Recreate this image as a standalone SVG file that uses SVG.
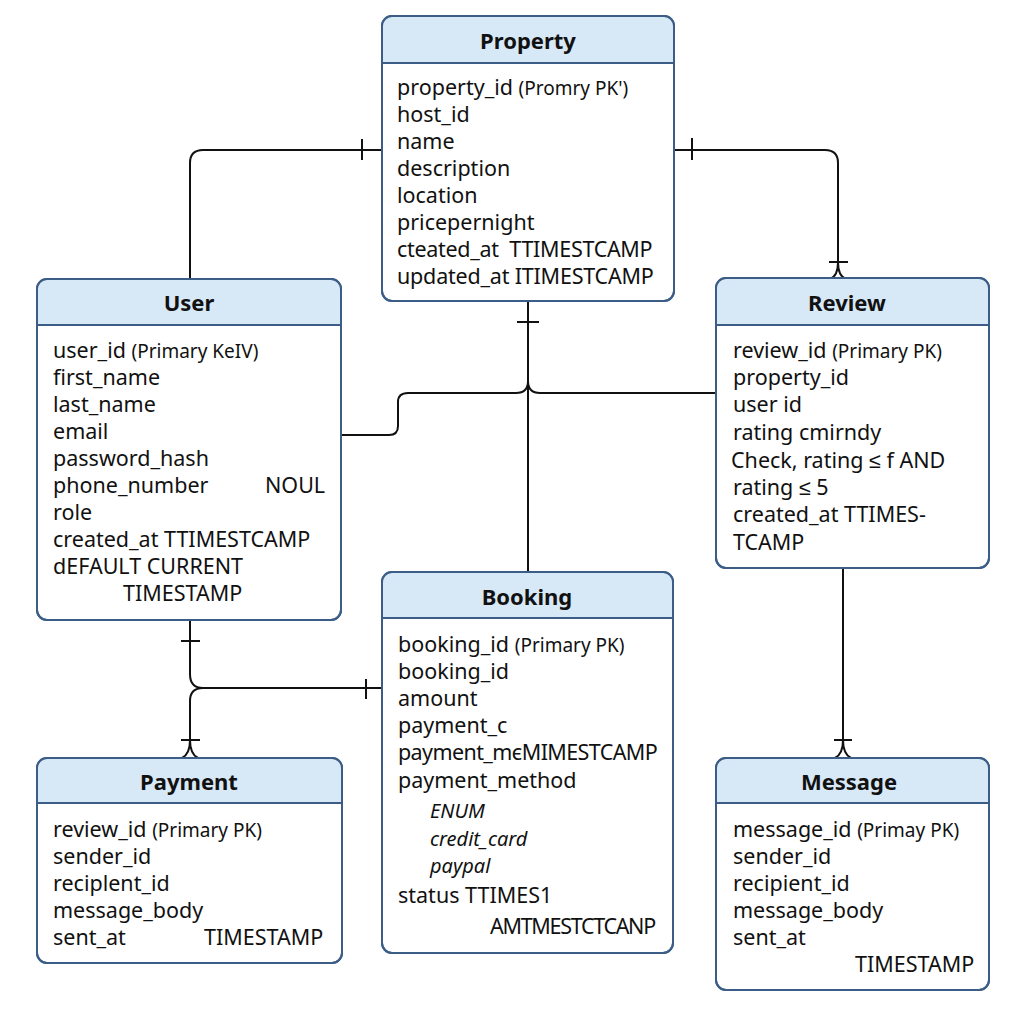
<svg xmlns="http://www.w3.org/2000/svg" width="1024" height="1024" viewBox="0 0 1024 1024">
<style>
.box{fill:#ffffff;stroke:#3b5d86;stroke-width:2}
.hdr{fill:#d7e8f6;stroke:none}
.sep{stroke:#3b5d86;stroke-width:2}
.title{font-family:"Noto Sans","Liberation Sans",sans-serif;font-size:22px;font-weight:bold;fill:#111;text-anchor:middle}
.f{font-family:"Noto Sans","Liberation Sans",sans-serif;font-size:21.5px;fill:#111;white-space:pre}
.s{font-size:19px}
.it{font-style:italic;font-size:20px}
.c{fill:none;stroke:#111;stroke-width:2;stroke-linecap:butt}
</style>
<rect width="1024" height="1024" fill="#ffffff"/>

<g id="connectors">
  <!-- Property - User -->
  <path class="c" d="M382,150 H203 Q190,150 190,163 V279"/>
  <path class="c" d="M362,139 V160"/>
  <!-- Property - Review -->
  <path class="c" d="M674,150 H825 Q838,150 838,163 V262"/>
  <path class="c" d="M692,138 V160"/>
  <path class="c" d="M829,262 H848"/>
  <path class="c" d="M838,262 Q838,276 830,279 M838,262 Q838,276 846,279"/>
  <!-- Property - Booking -->
  <path class="c" d="M528,301 V572"/>
  <path class="c" d="M517,322 H539"/>
  <!-- User - Property/Booking trunk -->
  <path class="c" d="M341,435 H389 Q398,435 398,426 V402 Q398,393 408,393 H516 Q528,393 528,381"/>
  <!-- Review - trunk -->
  <path class="c" d="M716,393 H540 Q528,393 528,381"/>
  <!-- User - Payment / Booking -->
  <path class="c" d="M190,621 V674 Q190,688 203,688 H382"/>
  <path class="c" d="M203,688 Q190,688 190,701 V740"/>
  <path class="c" d="M181,641 H200"/>
  <path class="c" d="M366,679 V699"/>
  <path class="c" d="M181,740 H200"/>
  <path class="c" d="M190,740 Q190,754 182,758 M190,740 Q190,754 198,758"/>
  <!-- Review - Message -->
  <path class="c" d="M843,568 V740"/>
  <path class="c" d="M834,740 H852"/>
  <path class="c" d="M843,740 Q843,754 835,758 M843,740 Q843,754 851,758"/>
</g>

<g id="property">
  <rect class="box" x="382" y="16" width="292" height="285" rx="10"/>
  <path class="hdr" d="M383,63 V26 Q383,17 392,17 H664 Q673,17 673,26 V63 Z"/>
  <line class="sep" x1="382" y1="63" x2="674" y2="63"/>
  <rect x="382" y="16" width="292" height="285" rx="10" fill="none" stroke="#3b5d86" stroke-width="2"/>
  <text class="title" x="528" y="49">Property</text>
  <text class="f" x="397" y="95">property_id <tspan class="s">(Promry PK')</tspan></text>
  <text class="f" x="397" y="122">host_id</text>
  <text class="f" x="397" y="149">name</text>
  <text class="f" x="397" y="176">description</text>
  <text class="f" x="397" y="203">location</text>
  <text class="f" x="397" y="230">pricepernight</text>
  <text class="f" x="397" y="257" letter-spacing="-0.3">cteated_at  TTIMESTCAMP</text>
  <text class="f" x="397" y="284" letter-spacing="-0.2">updated_at ITIMESTCAMP</text>
</g>

<g id="user">
  <rect class="box" x="37" y="279" width="304" height="341" rx="10"/>
  <path class="hdr" d="M38,325 V289 Q38,280 47,280 H331 Q340,280 340,289 V325 Z"/>
  <line class="sep" x1="37" y1="325" x2="341" y2="325"/>
  <rect x="37" y="279" width="304" height="341" rx="10" fill="none" stroke="#3b5d86" stroke-width="2"/>
  <text class="title" x="189" y="311">User</text>
  <text class="f" x="53" y="358">user_id <tspan class="s">(Primary KeIV)</tspan></text>
  <text class="f" x="53" y="385">first_name</text>
  <text class="f" x="53" y="412">last_name</text>
  <text class="f" x="53" y="439">email</text>
  <text class="f" x="53" y="466">password_hash</text>
  <text class="f" x="53" y="493">phone_number</text>
  <text class="f" x="265" y="493">NOUL</text>
  <text class="f" x="53" y="520">role</text>
  <text class="f" x="53" y="547">created_at TTIMESTCAMP</text>
  <text class="f" x="53" y="574">dEFAULT CURRENT</text>
  <text class="f" x="123" y="601">TIMESTAMP</text>
</g>

<g id="review">
  <rect class="box" x="716" y="278" width="273" height="290" rx="10"/>
  <path class="hdr" d="M717,325 V288 Q717,279 726,279 H979 Q988,279 988,288 V325 Z"/>
  <line class="sep" x1="716" y1="325" x2="989" y2="325"/>
  <rect x="716" y="278" width="273" height="290" rx="10" fill="none" stroke="#3b5d86" stroke-width="2"/>
  <text class="title" x="847" y="311">Review</text>
  <text class="f" x="733" y="358">review_id <tspan class="s">(Primary PK)</tspan></text>
  <text class="f" x="733" y="385">property_id</text>
  <text class="f" x="733" y="412">user id</text>
  <text class="f" x="733" y="440">rating cmirndy</text>
  <text class="f" x="731" y="468">Check, rating ≤ f AND</text>
  <text class="f" x="733" y="495">rating ≤ 5</text>
  <text class="f" x="733" y="522">created_at TTIMES-</text>
  <text class="f" x="733" y="550">TCAMP</text>
</g>

<g id="booking">
  <rect class="box" x="382" y="572" width="291" height="381" rx="10"/>
  <path class="hdr" d="M383,618 V582 Q383,573 392,573 H663 Q672,573 672,582 V618 Z"/>
  <line class="sep" x1="382" y1="618" x2="673" y2="618"/>
  <rect x="382" y="572" width="291" height="381" rx="10" fill="none" stroke="#3b5d86" stroke-width="2"/>
  <text class="title" x="527" y="605">Booking</text>
  <text class="f" x="398" y="652">booking_id <tspan class="s">(Primary PK)</tspan></text>
  <text class="f" x="398" y="679">booking_id</text>
  <text class="f" x="398" y="706">amount</text>
  <text class="f" x="398" y="733">payment_c</text>
  <text class="f" x="398" y="760" letter-spacing="-0.6">payment_mєMIMESTCAMP</text>
  <text class="f" x="398" y="788">payment_method</text>
  <text class="f it" x="430" y="818">ENUM</text>
  <text class="f it" x="430" y="846">credit_card</text>
  <text class="f it" x="430" y="873">paypal</text>
  <text class="f" x="398" y="903">status TTIMES1</text>
  <text class="f" x="490" y="934" letter-spacing="-1.3">AMTMESTCTCANP</text>
</g>

<g id="payment">
  <rect class="box" x="37" y="758" width="305" height="205" rx="10"/>
  <path class="hdr" d="M38,803 V768 Q38,759 47,759 H332 Q341,759 341,768 V803 Z"/>
  <line class="sep" x1="37" y1="803" x2="342" y2="803"/>
  <rect x="37" y="758" width="305" height="205" rx="10" fill="none" stroke="#3b5d86" stroke-width="2"/>
  <text class="title" x="189" y="790">Payment</text>
  <text class="f" x="53" y="837">review_id <tspan class="s">(Primary PK)</tspan></text>
  <text class="f" x="53" y="864">sender_id</text>
  <text class="f" x="53" y="891">reciplent_id</text>
  <text class="f" x="53" y="918">message_body</text>
  <text class="f" x="53" y="945">sent_at</text>
  <text class="f" x="204" y="945">TIMESTAMP</text>
</g>

<g id="message">
  <rect class="box" x="716" y="758" width="273" height="232" rx="10"/>
  <path class="hdr" d="M717,803 V768 Q717,759 726,759 H979 Q988,759 988,768 V803 Z"/>
  <line class="sep" x1="716" y1="803" x2="989" y2="803"/>
  <rect x="716" y="758" width="273" height="232" rx="10" fill="none" stroke="#3b5d86" stroke-width="2"/>
  <text class="title" x="849" y="790">Message</text>
  <text class="f" x="733" y="837">message_id <tspan class="s">(Primay PK)</tspan></text>
  <text class="f" x="733" y="864">sender_id</text>
  <text class="f" x="733" y="891">recipient_id</text>
  <text class="f" x="733" y="918">message_body</text>
  <text class="f" x="733" y="945">sent_at</text>
  <text class="f" x="855" y="972">TIMESTAMP</text>
</g>
</svg>
